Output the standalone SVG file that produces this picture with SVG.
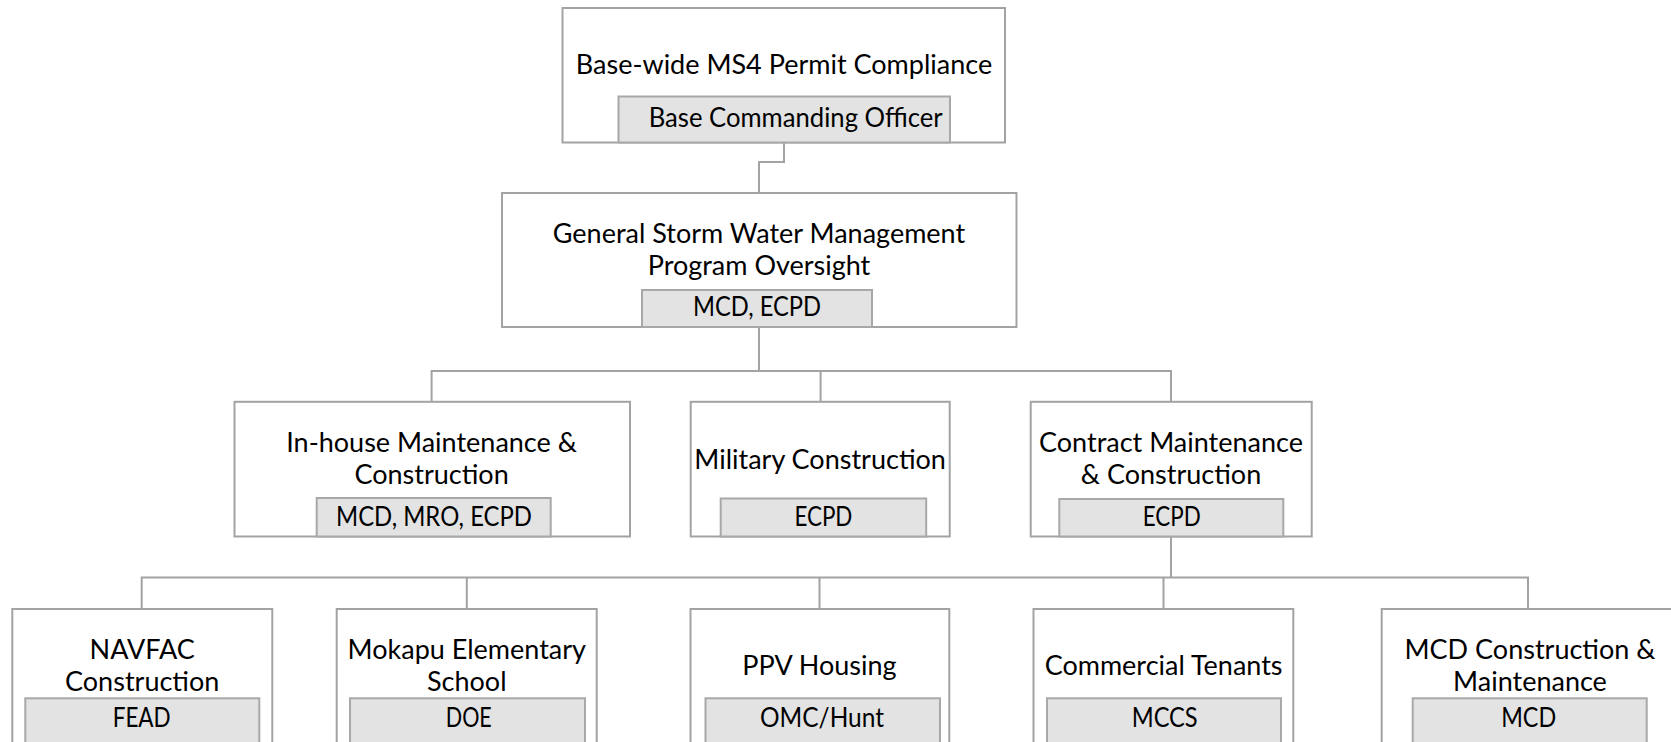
<svg xmlns="http://www.w3.org/2000/svg" width="1671" height="742" viewBox="0 0 1671 742">
<style>
.box{fill:#ffffff;stroke:#a3a3a3;stroke-width:2}
.tag{fill:#e3e3e3;stroke:#a8a8a8;stroke-width:2}
.t{font-family:Lato,"Liberation Sans",sans-serif;font-size:27px;fill:#000;text-anchor:middle}
.c{fill:none;stroke:#a3a3a3;stroke-width:2}
</style>
<rect width="1671" height="742" fill="#ffffff"/>
<g id="connectors">
<path class="c" d="M784,142.5 V162 H759 V193"/>
<path class="c" d="M759,327 V371 M431.6,401.8 V371 H1171 V401.8 M820.6,371 V401.8"/>
<path class="c" d="M1171,536.5 V577.5 M141.7,609 V577.5 H1528 V609 M466.8,577.5 V609 M819.5,577.5 V609 M1163.5,577.5 V609"/>
</g>
<g id="n-top">
<rect class="box" x="562.5" y="8" width="442.5" height="134.5"/>
<rect class="tag" x="618.5" y="96.5" width="331.5" height="46"/>
<text class="t" x="784" y="74">Base-wide MS4 Permit Compliance</text>
<text class="t" x="795.7" y="127" textLength="294" lengthAdjust="spacingAndGlyphs">Base Commanding Officer</text>
</g>
<g id="n-general">
<rect class="box" x="502" y="193" width="514.5" height="134"/>
<rect class="tag" x="642" y="290" width="230" height="37"/>
<text class="t" x="759" y="243">General Storm Water Management</text>
<text class="t" x="759" y="275">Program Oversight</text>
<text class="t" x="757" y="316" textLength="128" lengthAdjust="spacingAndGlyphs">MCD, ECPD</text>
</g>
<g id="n-inhouse">
<rect class="box" x="234.5" y="401.8" width="395.5" height="134.7"/>
<rect class="tag" x="316.7" y="498" width="234" height="38.5"/>
<text class="t" x="431.6" y="452">In-house Maintenance &amp;</text>
<text class="t" x="431.6" y="484">Construction</text>
<text class="t" x="434" y="526" textLength="196" lengthAdjust="spacingAndGlyphs">MCD, MRO, ECPD</text>
</g>
<g id="n-military">
<rect class="box" x="690.7" y="401.8" width="259" height="134.7"/>
<rect class="tag" x="720.7" y="498.5" width="205.5" height="38"/>
<text class="t" x="820.1" y="469">Military Construction</text>
<text class="t" x="823.4" y="526" textLength="58" lengthAdjust="spacingAndGlyphs">ECPD</text>
</g>
<g id="n-contract">
<rect class="box" x="1030.7" y="401.8" width="281" height="134.7"/>
<rect class="tag" x="1059.3" y="499" width="224" height="37.5"/>
<text class="t" x="1171" y="452">Contract Maintenance</text>
<text class="t" x="1171" y="484">&amp; Construction</text>
<text class="t" x="1171.7" y="526" textLength="58" lengthAdjust="spacingAndGlyphs">ECPD</text>
</g>
<g id="n-navfac">
<rect class="box" x="12.3" y="609" width="260" height="145"/>
<rect class="tag" x="25.3" y="698.3" width="234" height="56"/>
<text class="t" x="142.2" y="659">NAVFAC</text>
<text class="t" x="142.2" y="691">Construction</text>
<text class="t" x="141.7" y="727.3" textLength="58" lengthAdjust="spacingAndGlyphs">FEAD</text>
</g>
<g id="n-mokapu">
<rect class="box" x="336.7" y="609" width="260" height="145"/>
<rect class="tag" x="350" y="698.3" width="235" height="56"/>
<text class="t" x="466.8" y="659">Mokapu Elementary</text>
<text class="t" x="466.8" y="691">School</text>
<text class="t" x="468.8" y="727.3" textLength="46" lengthAdjust="spacingAndGlyphs">DOE</text>
</g>
<g id="n-ppv">
<rect class="box" x="690.5" y="609" width="258.8" height="145"/>
<rect class="tag" x="705.5" y="698.3" width="234.5" height="56"/>
<text class="t" x="819.5" y="675">PPV Housing</text>
<text class="t" x="822" y="727.3" textLength="124" lengthAdjust="spacingAndGlyphs">OMC/Hunt</text>
</g>
<g id="n-commercial">
<rect class="box" x="1033.5" y="609" width="259.8" height="145"/>
<rect class="tag" x="1047" y="698.3" width="234" height="56"/>
<text class="t" x="1163.6" y="675">Commercial Tenants</text>
<text class="t" x="1164.7" y="727.3" textLength="66" lengthAdjust="spacingAndGlyphs">MCCS</text>
</g>
<g id="n-mcd">
<rect class="box" x="1381.7" y="609" width="300" height="145"/>
<rect class="tag" x="1412.7" y="698.3" width="234" height="56"/>
<text class="t" x="1530" y="659">MCD Construction &amp;</text>
<text class="t" x="1530" y="691">Maintenance</text>
<text class="t" x="1528.7" y="727.3" textLength="55" lengthAdjust="spacingAndGlyphs">MCD</text>
</g>
</svg>
